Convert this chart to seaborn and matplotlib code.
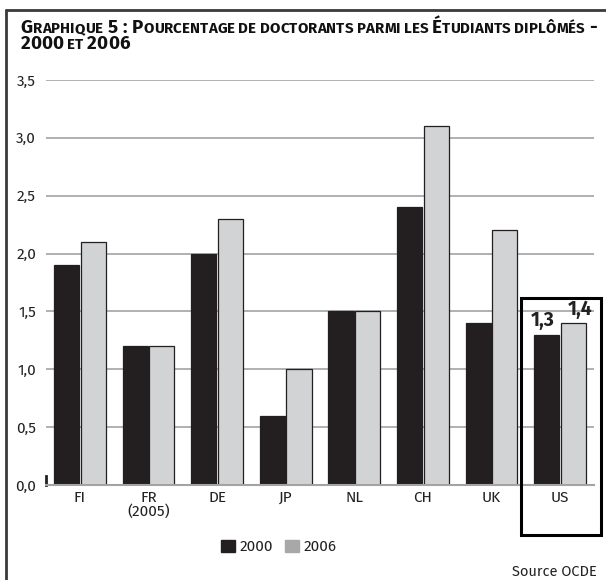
import matplotlib
matplotlib.use("Agg")
import matplotlib.pyplot as plt
from matplotlib.patches import Patch, Rectangle
from matplotlib.lines import Line2D
import pandas as pd
import seaborn as sns

# ---- data ----
categories = ["FI", "FR\n(2005)", "DE", "JP", "NL", "CH", "UK", "US"]
series_names = ["2000", "2006"]
values_2000 = [1.9, 1.2, 2.0, 0.6, 1.5, 2.4, 1.4, 1.3]
values_2006 = [2.1, 1.2, 2.3, 1.0, 1.5, 3.1, 2.2, 1.4]
y_ticks = [0.0, 0.5, 1.0, 1.5, 2.0, 2.5, 3.0, 3.5]
y_tick_labels = ["0,0", "0,5", "1,0", "1,5", "2,0", "2,5", "3,0", "3,5"]
highlight_labels = ["1,3", "1,4"]

FONT = ["Fira Sans", "DejaVu Sans"]
C_DARK = "#231f20"
C_LIGHT = "#d1d3d4"
C_GRID = "#a3a3a3"
C_TEXT = "#222222"

df = pd.DataFrame({
    "pays": categories * 2,
    "annee": [series_names[0]] * len(categories) + [series_names[1]] * len(categories),
    "valeur": values_2000 + values_2006,
})

sns.set_theme(style="white")
plt.rcParams["font.family"] = FONT

W, H = 606, 580
fig = plt.figure(figsize=(W / 100, H / 100), dpi=100)
ax = fig.add_axes([45.7 / W, 1 - 485 / H, (594.3 - 45.7) / W, (485 - 80) / H])

sns.barplot(data=df, x="pays", y="valeur", hue="annee", order=categories,
            hue_order=series_names, palette=[C_DARK, C_LIGHT], width=0.775,
            gap=0.05, edgecolor=C_DARK, linewidth=0.9, saturation=1,
            legend=False, ax=ax, zorder=3)

ax.set_xlim(-0.5, len(categories) - 0.5)
ax.set_ylim(0, 3.5)
ax.set_yticks(y_ticks)
ax.set_yticklabels(y_tick_labels)
ax.yaxis.grid(True, color=C_GRID, linewidth=1.2, zorder=0)
ax.set_axisbelow(True)
ax.set_xlabel("")
ax.set_ylabel("")

for s in ["top", "right"]:
    ax.spines[s].set_visible(False)
ax.spines["bottom"].set_color(C_GRID)
ax.spines["bottom"].set_linewidth(1.5)
ax.spines["bottom"].set_zorder(4)
ax.spines["left"].set_bounds(0, 0.08)
ax.spines["left"].set_color(C_DARK)
ax.spines["left"].set_linewidth(2)

ax.tick_params(axis="y", length=0, pad=7, labelsize=11, labelcolor=C_TEXT)
ax.tick_params(axis="x", which="major", length=0, pad=4, labelsize=11, labelcolor=C_TEXT)
for t in ax.get_xticklabels():
    t.set_linespacing(0.95)
ax.set_xticks([i + 0.5 for i in range(len(categories))], minor=True)
ax.tick_params(axis="x", which="minor", direction="in", length=7, width=1, color=C_GRID)

# highlight box around US
box = Rectangle((6.43, -0.43), 1.17, 2.05, fill=False, edgecolor="black",
                linewidth=2.2, clip_on=False, zorder=5)
ax.add_patch(box)

# value labels on US bars
us_bars = [ax.patches[7], ax.patches[15]]
for bar, lab, dx in zip(us_bars, highlight_labels, [-3, 5]):
    ax.annotate(lab, (bar.get_x() + bar.get_width() / 2, bar.get_height()),
                xytext=(dx, 3), textcoords="offset points", ha="center",
                va="bottom", fontsize=14, fontweight="bold", color=C_TEXT)

# legend
handles = [Patch(facecolor=C_DARK, edgecolor=C_DARK),
           Patch(facecolor="#a8a8a8", edgecolor="#a8a8a8")]
fig.legend(handles, series_names, loc="center", bbox_to_anchor=(279 / W, 1 - 547 / H),
           ncol=2, frameon=False, fontsize=11, handlelength=0.9, handleheight=0.9,
           handletextpad=0.3, columnspacing=0.8, labelcolor=C_TEXT)

fig.text(597 / W, 1 - 572 / H, "Source OCDE", ha="right", va="center",
         fontsize=10.5, color=C_TEXT)

# outer frame (left + top)
fig.add_artist(Line2D([6 / W, 6 / W], [0, 1 - 10 / H], color="#3a3a3a", linewidth=2,
                      transform=fig.transFigure))
fig.add_artist(Line2D([6 / W, 1], [1 - 10 / H, 1 - 10 / H], color="#3a3a3a", linewidth=2,
                      transform=fig.transFigure))

# small-caps title with letter tracking
renderer = fig.canvas.get_renderer()
BIG = 13.5
SMALL = 10.8
line1 = [("G", BIG), ("RAPHIQUE", SMALL), (" 5 : ", BIG), ("P", BIG),
         ("OURCENTAGE DE DOCTORANTS PARMI LES ", SMALL), ("É", BIG),
         ("TUDIANTS DIPLÔMÉS", SMALL), (" -", BIG)]
line2 = [("2000", BIG), (" ET ", SMALL), ("2006", BIG)]


def char_list(pieces):
    return [(c, size) for txt, size in pieces for c in txt]


def advance(c, size):
    # width of a glyph measured between two bars to keep spaces
    t = fig.text(0, 0, "|" + c + "|", fontsize=size, fontweight="bold")
    w2 = t.get_window_extent(renderer).width
    t.set_text("||")
    w1 = t.get_window_extent(renderer).width
    t.remove()
    return w2 - w1


def draw_line(chars, x0, y0, track):
    x = x0
    for c, size in chars:
        if c != " ":
            fig.text(x / W, 1 - y0 / H, c, fontsize=size, fontweight="bold",
                     ha="left", va="baseline", color="#111111")
        x += advance(c, size) + track
    return x


c1 = char_list(line1)
natural = sum(advance(c, s) for c, s in c1)
track = max(0.0, ((597 - 20.5) - natural) / (len(c1) - 1))
draw_line(c1, 20.5, 33.3, track)
draw_line(char_list(line2), 20.5, 49.3, track)

fig.savefig("out.png", dpi=100)
